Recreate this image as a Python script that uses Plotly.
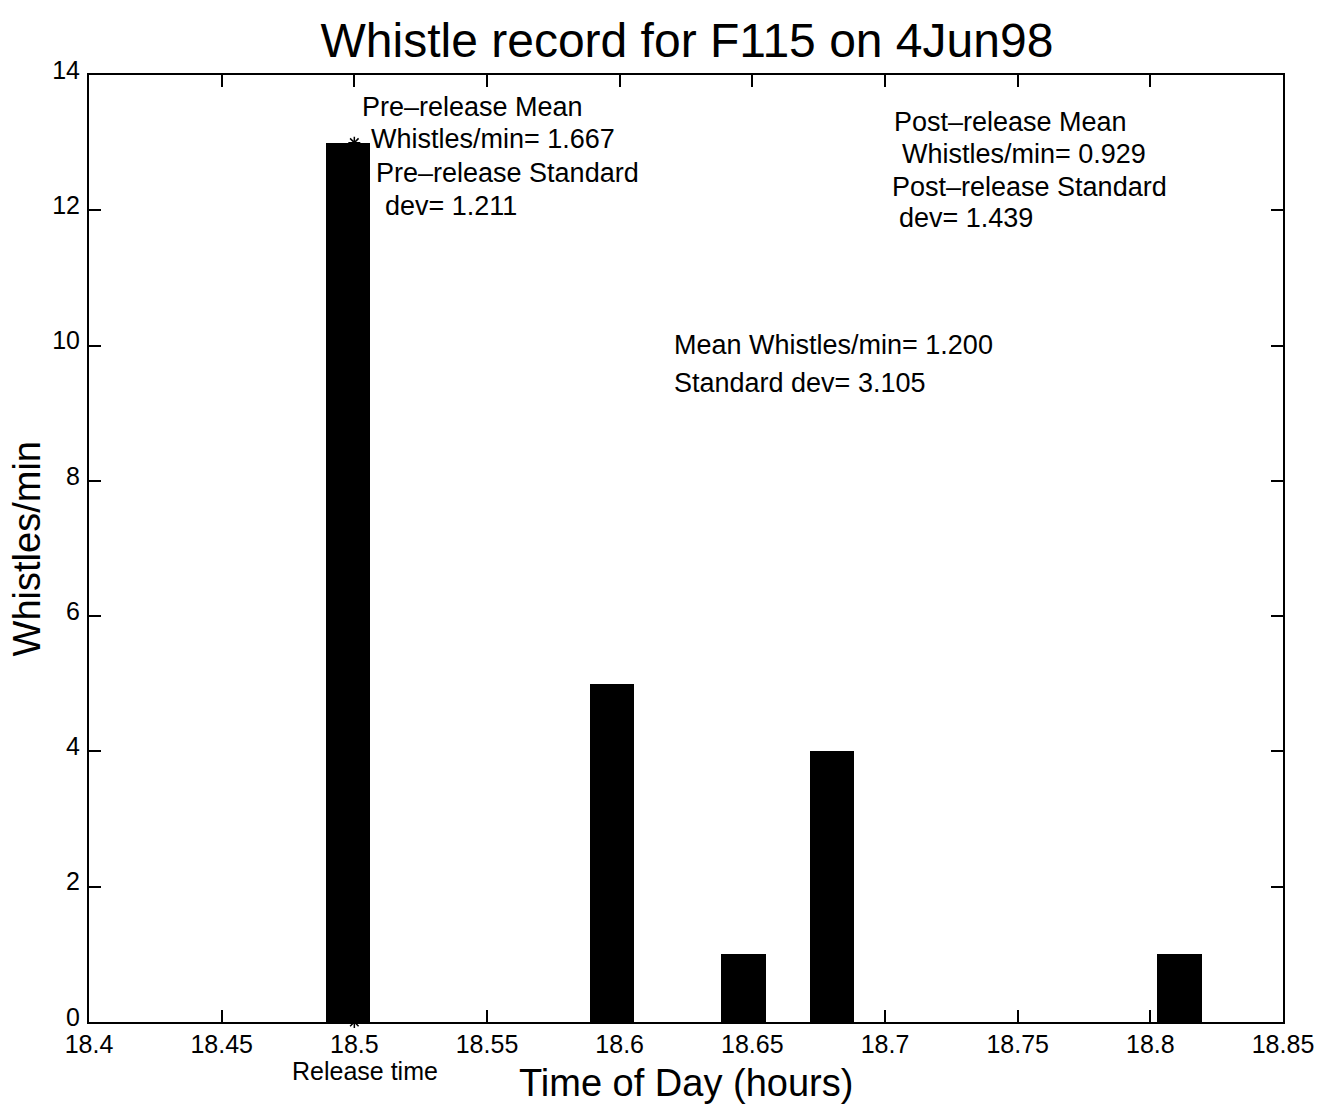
import plotly.graph_objects as go

# Data
bin_centers = [18.4975, 18.5970, 18.6467, 18.6800, 18.8110]
whistles = [13, 5, 1, 4, 1]
bin_width = 1 / 60.0
release_time = 18.5
release_marks_y = [13, 0]
x_ticks = [18.4, 18.45, 18.5, 18.55, 18.6, 18.65, 18.7, 18.75, 18.8, 18.85]
x_tick_labels = ["18.4", "18.45", "18.5", "18.55", "18.6", "18.65", "18.7", "18.75", "18.8", "18.85"]
y_ticks = [0, 2, 4, 6, 8, 10, 12, 14]

FONT = "Liberation Sans, Arial, Helvetica, sans-serif"

fig = go.Figure()
fig.add_trace(go.Bar(x=bin_centers, y=whistles, width=[bin_width] * len(whistles),
                     marker=dict(color="black", line=dict(color="black", width=0)),
                     showlegend=False))
fig.add_trace(go.Scatter(x=[release_time] * len(release_marks_y), y=release_marks_y, mode="markers",
                         marker=dict(symbol="asterisk-open", size=10, color="black",
                                     line=dict(color="black", width=1.5)),
                         cliponaxis=False, showlegend=False))

PLOT_TOP, PLOT_BOTTOM = 75, 1022


def px2x(px):
    return 18.4 + (px - 89) / (1283 - 89) * 0.45


def py2y(py):
    return (PLOT_BOTTOM - py) / (PLOT_BOTTOM - PLOT_TOP) * 14


texts = [
    (360, 107, "Pre\u2013release Mean"),
    (369, 139, "Whistles/min= 1.667"),
    (374, 173, "Pre\u2013release Standard"),
    (383, 206, "dev= 1.211"),
    (892, 122, "Post\u2013release Mean"),
    (900, 154, "Whistles/min= 0.929"),
    (890, 187, "Post\u2013release Standard"),
    (897, 218, "dev= 1.439"),
    (672, 345, "Mean Whistles/min= 1.200"),
    (672, 383, "Standard dev= 3.105"),
]
anns = []
for px, py, t in texts:
    anns.append(dict(x=px2x(px), y=py2y(py), xref="x", yref="y", text=t, showarrow=False,
                     xanchor="left", yanchor="middle", font=dict(size=27, color="black", family=FONT)))
anns.append(dict(x=px2x(365), y=(PLOT_BOTTOM - 1071) / (PLOT_BOTTOM - PLOT_TOP), xref="x", yref="paper",
                 text="Release time", showarrow=False, xanchor="center", yanchor="middle",
                 font=dict(size=25, color="black", family=FONT)))
anns.append(dict(x=0.5, y=-0.064, xref="paper", yref="paper", text="Time of Day (hours)",
                 showarrow=False, xanchor="center", yanchor="middle",
                 font=dict(size=38, color="black", family=FONT)))
anns.append(dict(x=-0.052, y=0.5, xref="paper", yref="paper", text="Whistles/min", textangle=-90,
                 showarrow=False, xanchor="center", yanchor="middle",
                 font=dict(size=38, color="black", family=FONT)))

axis_common = dict(showline=True, linecolor="black", linewidth=2, mirror="ticks", ticks="inside",
                   ticklen=12, tickwidth=1.5, tickcolor="black", showgrid=False, zeroline=False,
                   tickfont=dict(size=25, color="black", family=FONT))

fig.update_layout(
    width=1330, height=1104,
    margin=dict(l=89, r=47, t=PLOT_TOP, b=1104 - PLOT_BOTTOM),
    paper_bgcolor="white", plot_bgcolor="white",
    title=dict(text="Whistle record for F115 on 4Jun98", x=0.5165, xanchor="center",
               y=1 - 40 / 1104, yanchor="middle", yref="container",
               font=dict(size=48, color="black", family=FONT)),
    xaxis=dict(range=[18.4, 18.85], tickvals=x_ticks, ticktext=x_tick_labels,
               ticklabelstandoff=-1, **axis_common),
    yaxis=dict(range=[0, 14], tickvals=y_ticks, ticklabelstandoff=2, ticklabelshift=-5, **axis_common),
    annotations=anns,
    bargap=0,
)

fig.write_html("out.html")
